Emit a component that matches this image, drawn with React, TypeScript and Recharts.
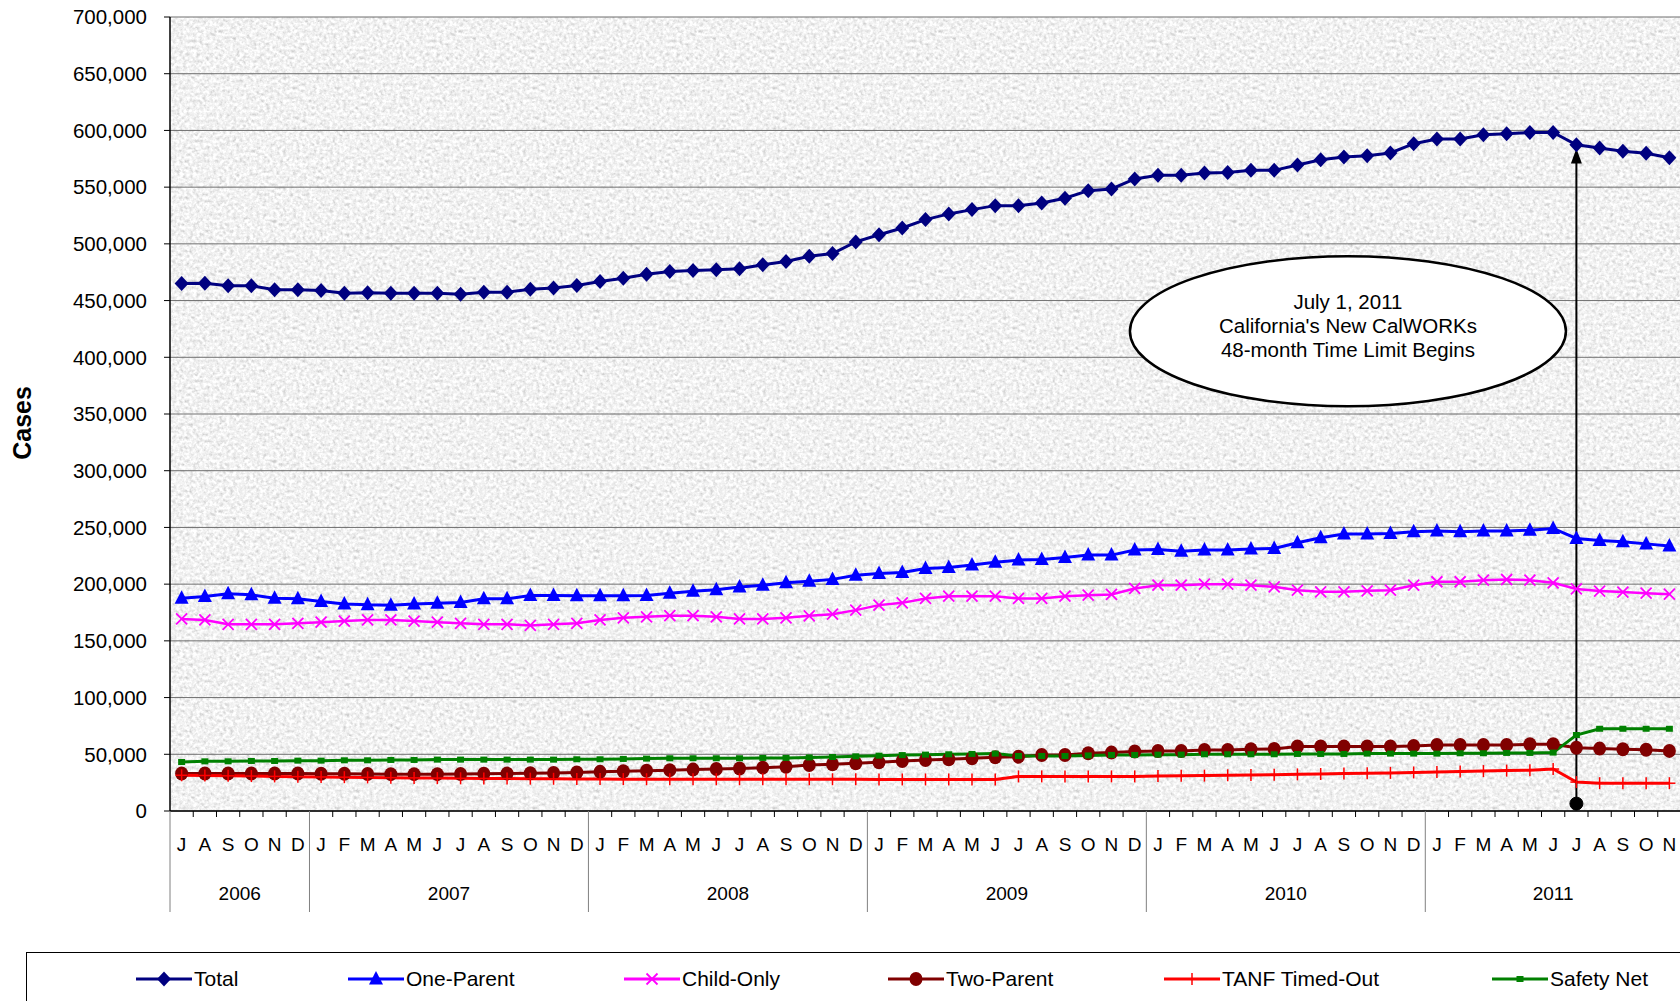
import React from 'react';
import { LineChart, Line, XAxis, YAxis, CartesianGrid, ReferenceLine, ReferenceDot } from 'recharts';

const monthLetters = ['J', 'F', 'M', 'A', 'M', 'J', 'J', 'A', 'S', 'O', 'N', 'D'];
const yearLabels = ['2006', '2007', '2008', '2009', '2010', '2011'];
const yearFirstMonth = [6, 0, 0, 0, 0, 0];
const yearLastMonth = [11, 11, 11, 11, 11, 10];

// cases in thousands, Jul 2006 - Nov 2011
const total = [
  465, 465.3, 463, 463, 459.5, 459.5,
  458.8, 456.5, 457, 456.5, 456.5, 456.5, 455.6, 457.4, 457.4, 460, 461, 463.2,
  466.8, 469.7, 473.2, 475.6, 476.5, 477.1, 478, 481.5, 484.4, 489, 491.5, 501.7,
  508, 514, 521.4, 526.4, 530.2, 533.7, 533.7, 536.1, 540.2, 546.9, 548.4, 557.2,
  560.4, 560.4, 562.5, 563, 564.8, 564.8, 569.5, 574.2, 576.5, 577.7, 580.1, 588.3,
  592.4, 592.4, 596.2, 597.1, 598.2, 598.2, 587.4, 584.6, 581.7, 579.8, 576,
];
const oneParent = [
  187.6, 189.1, 191.5, 190.6, 187.6, 187.1,
  184.7, 182.6, 181.8, 181.5, 182.6, 183.2, 183.8, 187.1, 187.1, 190, 190, 189.7,
  189.7, 189.7, 190, 192, 193.8, 195, 197.4, 199.1, 201.2, 202.6, 204.2, 207.9,
  209.4, 210.3, 213.8, 214.7, 216.8, 219.4, 221.2, 221.8, 223.5, 225.6, 225.6, 230,
  230.6, 229.1, 230, 230, 230.9, 231.5, 236.5, 240.9, 244.1, 244.1, 244.7, 246.2,
  246.8, 246.2, 246.8, 246.8, 247.6, 249.1, 240.3, 238.4, 237.4, 235.5, 233.6,
];
const childOnly = [
  169.3, 168.4, 164.6, 164.6, 164.6, 165.5,
  166.5, 167.4, 168.4, 168.4, 167.4, 166.5, 165.5, 164.6, 164.6, 163.6, 164.6, 165.5,
  168.4, 170.3, 171.2, 172.2, 172.2, 171.2, 169.3, 169.3, 170.3, 172.1, 173.5, 177.1,
  181.5, 183.5, 187.4, 189.4, 189.4, 189.4, 187.4, 187.4, 189.4, 190.3, 190.9, 196.2,
  199.1, 199.1, 200, 200, 199.1, 197.6, 194.7, 193.2, 193.2, 194.1, 194.7, 199.1,
  202.1, 202.1, 203.5, 204.1, 203.5, 201.2, 195.8, 193.9, 193, 192, 191.1,
];
const twoParent = [
  33, 33, 33, 33, 33, 33,
  32.8, 32.8, 32.6, 32.5, 32.5, 32.5, 32.6, 32.8, 33, 33.3, 33.6, 34,
  34.5, 35, 35.5, 36, 36.5, 37, 37.5, 38.2, 39, 40.6, 41.2, 42.1,
  42.9, 44.1, 45, 45.6, 46.5, 47.4, 47.9, 49.4, 49.4, 50.9, 51.5, 52.4,
  52.9, 52.9, 53.8, 53.8, 54.4, 54.7, 56.8, 56.8, 56.8, 56.8, 56.8, 57.4,
  58.2, 58.2, 58.2, 58.2, 58.8, 58.8, 55.8, 55, 54.5, 54, 53,
];
const tanfTimedOut = [
  31.5, 31.3, 31, 30.8, 30.5, 30.3,
  30, 29.8, 29.6, 29.4, 29.2, 29, 28.8, 28.7, 28.6, 28.5, 28.4, 28.3,
  28.2, 28.1, 28, 28, 28, 28, 28, 28, 28, 28, 28, 28,
  27.8, 27.8, 27.8, 27.8, 27.8, 27.8, 30.5, 30.5, 30.5, 30.5, 30.5, 30.5,
  30.8, 31, 31.2, 31.5, 31.8, 32, 32.3, 32.6, 33, 33.3, 33.6, 34,
  34.4, 34.8, 35.2, 35.6, 36, 37, 25.5, 24.5, 24.5, 24.5, 24.5,
];
const safetyNet = [
  43.2, 43.8, 43.8, 44.1, 44.1, 44.4,
  44.4, 44.7, 44.7, 45, 45, 45.3, 45.3, 45.3, 45.3, 45.3, 45.3, 45.6,
  45.6, 45.9, 46.2, 46.5, 46.5, 46.5, 46.5, 46.8, 46.8, 47.2, 47.6, 48.2,
  48.8, 49.3, 49.7, 50, 50.3, 50.6, 48.5, 48.5, 48.5, 49, 49.4, 49.4,
  49.7, 49.7, 50, 50, 50, 50, 50.3, 50.3, 50.3, 50.6, 50.6, 50.6,
  50.6, 50.9, 50.9, 51.2, 51.2, 51.5, 67, 72.5, 72.5, 72.5, 72.5,
];

const yTicks = [0, 50, 100, 150, 200, 250, 300, 350, 400, 450, 500, 550, 600, 650, 700];

const series = [
  { key: 'total', name: 'Total', color: '#000080', marker: 'diamond', values: total },
  { key: 'oneParent', name: 'One-Parent', color: '#0000ff', marker: 'triangle', values: oneParent },
  { key: 'childOnly', name: 'Child-Only', color: '#ff00ff', marker: 'x', values: childOnly },
  { key: 'twoParent', name: 'Two-Parent', color: '#800000', marker: 'circle', values: twoParent },
  { key: 'tanf', name: 'TANF Timed-Out', color: '#ff0000', marker: 'plus', values: tanfTimedOut },
  { key: 'safety', name: 'Safety Net', color: '#008000', marker: 'square', values: safetyNet },
];

const cats: { key: string; letter: string; yearIdx: number; first: boolean; count: number }[] = [];
yearLabels.forEach((yr, yi) => {
  for (let m = yearFirstMonth[yi]; m <= yearLastMonth[yi]; m++) {
    cats.push({
      key: `${yr}-${m + 1}`,
      letter: monthLetters[m],
      yearIdx: yi,
      first: m === yearFirstMonth[yi],
      count: yearLastMonth[yi] - yearFirstMonth[yi] + 1,
    });
  }
});

const data = cats.map((c, i) => {
  const row: any = { key: c.key };
  series.forEach((s) => (row[s.key] = s.values[i]));
  return row;
});

const W = 1700;
const H = 1001;
const LEFT = 170;
const RIGHT_M = 19;
const BAND = (W - LEFT - RIGHT_M) / cats.length;
const FONT = 'Arial, "Liberation Sans", Helvetica, sans-serif';

const marker = (type: string, color: string, cx: number, cy: number, key?: any) => {
  if (cx == null || cy == null) return <g key={key} />;
  switch (type) {
    case 'diamond':
      return <polygon key={key} points={`${cx},${cy - 7.5} ${cx + 7},${cy} ${cx},${cy + 7.5} ${cx - 7},${cy}`} fill={color} />;
    case 'triangle':
      return <polygon key={key} points={`${cx},${cy - 8} ${cx + 7},${cy + 5.5} ${cx - 7},${cy + 5.5}`} fill={color} />;
    case 'x':
      return (
        <g key={key} stroke={color} strokeWidth={1.8}>
          <line x1={cx - 5.5} y1={cy - 5.5} x2={cx + 5.5} y2={cy + 5.5} />
          <line x1={cx - 5.5} y1={cy + 5.5} x2={cx + 5.5} y2={cy - 5.5} />
        </g>
      );
    case 'circle':
      return <ellipse key={key} cx={cx} cy={cy} rx={6.5} ry={7} fill={color} />;
    case 'plus':
      return (
        <g key={key} stroke={color} strokeWidth={1.5}>
          <line x1={cx - 6} y1={cy} x2={cx + 6} y2={cy} />
          <line x1={cx} y1={cy - 6} x2={cx} y2={cy + 6} />
        </g>
      );
    default:
      return <rect key={key} x={cx - 3.5} y={cy - 3} width={7} height={6} fill={color} />;
  }
};

const MonthTick = (props: any) => {
  const { x, y, payload } = props;
  const c = cats.find((k) => k.key === payload.value);
  if (!c) return null;
  const left = x - BAND / 2;
  return (
    <g fontFamily={FONT} fill="#000">
      <line x1={left} x2={left} y1={y} y2={y + (c.first ? 101 : 6)} stroke={c.first ? '#808080' : '#000'} strokeWidth={1} />
      <text x={x} y={y + 40} textAnchor="middle" fontSize={19}>{c.letter}</text>
      {c.first && (
        <text x={left + (c.count * BAND) / 2} y={y + 89} textAnchor="middle" fontSize={19}>
          {yearLabels[c.yearIdx]}
        </text>
      )}
    </g>
  );
};

const Arrow = (p: any) => {
  const top = Math.min(p.y1, p.y2);
  const bottom = Math.max(p.y1, p.y2);
  const x = p.x1;
  return (
    <g>
      <line x1={x} x2={x} y1={bottom} y2={top + 12} stroke="#000" strokeWidth={2} />
      <polygon points={`${x},${top} ${x - 5.5},${top + 15} ${x + 5.5},${top + 15}`} fill="#000" />
    </g>
  );
};

const Callout = (p: any) => (
  <g fontFamily={FONT} fontSize={20.5} fill="#000">
    <ellipse cx={p.cx + 4} cy={p.cy} rx={218} ry={75} fill="#fff" stroke="#000" strokeWidth={2.5} />
    <text x={p.cx + 4} y={p.cy - 22} textAnchor="middle">July 1, 2011</text>
    <text x={p.cx + 4} y={p.cy + 2} textAnchor="middle">California's New CalWORKs</text>
    <text x={p.cx + 4} y={p.cy + 26} textAnchor="middle">48-month Time Limit Begins</text>
  </g>
);

const legendX = [136, 348, 624, 888, 1164, 1492];

const App: React.FC = () => {
  return (
    <div style={{ position: 'absolute', left: 0, top: 0, width: 1680, height: 1001, overflow: 'hidden', background: '#fff' }}>
      <LineChart width={W} height={H} data={data} margin={{ top: 17, right: RIGHT_M, left: 0, bottom: 0 }}>
        <defs>
          <filter id="graniteNoise" x="0" y="0" width="100%" height="100%">
            <feTurbulence type="fractalNoise" baseFrequency="0.3" numOctaves="3" seed="4" stitchTiles="stitch" />
            <feColorMatrix type="matrix" values="0.33 0.33 0.33 0 0  0.33 0.33 0.33 0 0  0.33 0.33 0.33 0 0  0 0 0 0 1" />
            <feComponentTransfer>
              <feFuncR type="linear" slope="1.1" intercept="0.34" />
              <feFuncG type="linear" slope="1.1" intercept="0.34" />
              <feFuncB type="linear" slope="1.1" intercept="0.34" />
            </feComponentTransfer>
          </filter>
          <pattern id="granite" width={240} height={240} patternUnits="userSpaceOnUse">
            <rect width={240} height={240} fill="#e6e6e6" filter="url(#graniteNoise)" />
          </pattern>
        </defs>
        <CartesianGrid horizontal vertical={false} stroke="#6e6e6e" fill="url(#granite) #e4e4e4" fillOpacity={1} />
        <XAxis
          dataKey="key"
          interval={0}
          height={190}
          padding={{ left: BAND / 2, right: BAND / 2 }}
          tickSize={0}
          tickMargin={0}
          tickLine={false}
          axisLine={{ stroke: '#000', strokeWidth: 1.5 }}
          tick={<MonthTick />}
        />
        <YAxis
          width={LEFT}
          domain={[0, 700]}
          ticks={yTicks}
          interval={0}
          tickSize={6}
          tickMargin={17}
          axisLine={{ stroke: '#000', strokeWidth: 1.5 }}
          tickLine={{ stroke: '#000' }}
          tick={{ fill: '#000', fontSize: 20.5, fontFamily: FONT }}
          tickFormatter={(v: number) => (v * 1000).toLocaleString('en-US')}
          label={() => (
            <text x={31} y={423} transform="rotate(-90 31 423)" textAnchor="middle" fontFamily={FONT} fontWeight="bold" fontSize={25} fill="#000">
              Cases
            </text>
          )}
        />
        {series.map((s) => (
          <Line
            key={s.key}
            dataKey={s.key}
            name={s.name}
            type="linear"
            stroke={s.color}
            strokeWidth={s.key === 'childOnly' ? 2.5 : 3}
            isAnimationActive={false}
            dot={(p: any) => marker(s.marker, s.color, p.cx, p.cy, p.index)}
            activeDot={false}
          />
        ))}
        <ReferenceDot x="2010-9" y={423} ifOverflow="visible" shape={<Callout />} />
        <ReferenceLine
          segment={[{ x: '2011-7', y: 6.5 }, { x: '2011-7', y: 584 }]}
          ifOverflow="visible"
          shape={<Arrow />}
        />
        <ReferenceDot x="2011-7" y={6.5} r={6.5} fill="#000" stroke="#000" ifOverflow="visible" />
      </LineChart>
      <div
        style={{
          position: 'absolute',
          left: 26,
          top: 952,
          width: 1700,
          height: 80,
          border: '1px solid #000',
          boxSizing: 'border-box',
        }}
      />
      {series.map((s, i) => (
        <div
          key={s.key}
          style={{ position: 'absolute', left: legendX[i], top: 966, height: 26, display: 'flex', alignItems: 'center', fontFamily: FONT, fontSize: 21, color: '#000', whiteSpace: 'nowrap' }}
        >
          <svg width={56} height={26} style={{ display: 'block' }}>
            <line x1={0} x2={56} y1={13} y2={13} stroke={s.color} strokeWidth={3} />
            {marker(s.marker, s.color, 28, 13)}
          </svg>
          <span style={{ marginLeft: 2 }}>{s.name}</span>
        </div>
      ))}
    </div>
  );
};

export default App;
